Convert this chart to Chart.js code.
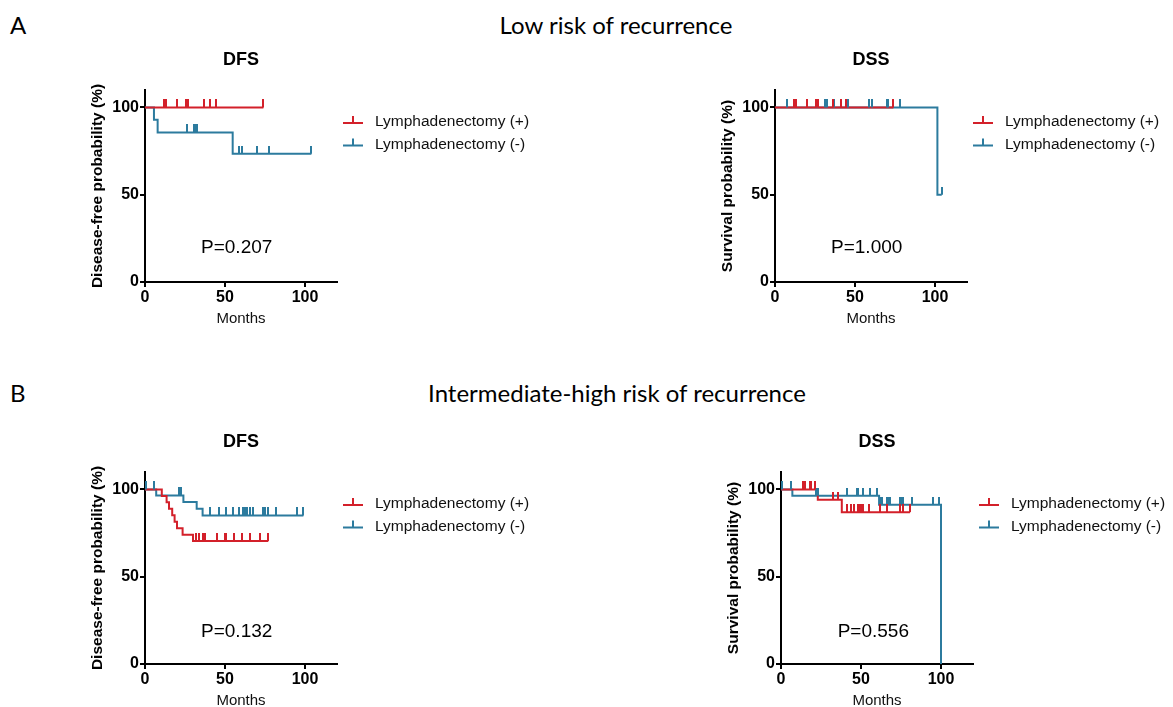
<!DOCTYPE html>
<html>
<head>
<meta charset="utf-8">
<script src="https://cdn.jsdelivr.net/npm/chart.js@4"></script>
<style>
  html, body { margin: 0; padding: 0; background: #fff; width: 1173px; height: 707px; overflow: hidden; }
  .panel { position: absolute; }
  .head { position: absolute; font-family: Lato, "Liberation Sans", sans-serif; font-size: 24px; line-height: 24px; color: #000; white-space: nowrap; }
  .center { text-align: center; width: 600px; }
</style>
</head>
<body>
<div class="head" style="left:10px; top:13px;">A</div>
<div class="head center" style="left:316px; top:13px;">Low risk of recurrence</div>
<div class="head" style="left:10px; top:381px;">B</div>
<div class="head center" style="left:317px; top:381px;">Intermediate-high risk of recurrence</div>

<canvas id="aDfs" class="panel"></canvas>
<canvas id="aDss" class="panel"></canvas>
<canvas id="bDfs" class="panel"></canvas>
<canvas id="bDss" class="panel"></canvas>

<script>
// Data (months, survival %)
const groupLabels = ['Lymphadenectomy (+)', 'Lymphadenectomy (-)'];
const xTicks = [0, 50, 100];
const yTicks = [0, 50, 100];

// A - low risk, DFS
const aDfsPosTimes = [0, 74];
const aDfsPosSurv = [100, 100];
const aDfsPosCens = [11.9, 12.9, 19.8, 25.4, 26.6, 37.1, 40.6, 44.4, 74];
const aDfsNegTimes = [0, 5.6, 7.9, 54.8, 104];
const aDfsNegSurv = [100, 92.9, 85.7, 73.5, 73.5];
const aDfsNegCens = [26, 30.6, 31.7, 32.7, 58.8, 60.4, 70.2, 77.7, 104];

// A - low risk, DSS
const aDssPosTimes = [0, 74];
const aDssPosSurv = [100, 100];
const aDssPosCens = [11.9, 12.9, 19.8, 25.4, 27.1, 36.5, 41.3, 44.4, 74];
const aDssNegTimes = [0, 101.5, 104.2];
const aDssNegSurv = [100, 50, 50];
const aDssNegCens = [7.7, 26, 31.3, 32.7, 36.9, 45.8, 58.8, 60.8, 69.8, 70.8, 78.1, 104.2];

// B - intermediate-high risk, DFS
const bDfsPosTimes = [0, 10.5, 13.5, 15, 17, 18.5, 20, 23.5, 30, 77];
const bDfsPosSurv = [100, 96.3, 92.6, 88.9, 85.2, 81.5, 77.8, 74.1, 70.4, 70.4];
const bDfsPosCens = [32, 33.5, 36.5, 37.5, 44.8, 50, 50.6, 55.4, 60.6, 65.6, 71.9, 77];
const bDfsNegTimes = [0, 7, 24, 32.3, 36, 99];
const bDfsNegSurv = [100, 96.6, 92.8, 89.0, 85.1, 85.1];
const bDfsNegCens = [0.6, 5.6, 21, 22.3, 40.6, 46.5, 50.6, 55.2, 58.8, 61, 62.5, 64, 65.6, 67.7, 73.5, 75, 77, 81.9, 95.2, 99];

// B - intermediate-high risk, DSS
const bDssPosTimes = [0, 23, 38, 80.6];
const bDssPosSurv = [100, 94.1, 87, 87];
const bDssPosCens = [13.7, 14.8, 18, 19, 21.3, 32.3, 35.8, 41.2, 43.7, 45.8, 47.9, 49, 50, 51, 55.2, 61.9, 66, 74.4, 76.5, 80.6];
const bDssNegTimes = [0, 7.1, 61.3, 100];
const bDssNegSurv = [100, 96.4, 91.2, 0];
const bDssNegCens = [0.8, 6, 21.7, 23, 41, 47.3, 48.3, 51.5, 55.6, 59.8, 62, 63, 66, 67, 68, 74.4, 75.4, 76.5, 81.7, 95, 99];

const RED = '#d3202a';
const BLUE = '#2c7b9e';
const FONT = '"Liberation Sans", Arial, sans-serif';

// layout of each plot (pixel geometry of the axes box)
const PLOT_W = 192, PLOT_H = 192, Y_AXIS_W = 85, X_AXIS_H = 55, TOP_PAD = 55, RIGHT_PAD = 200;

// survival value at time t from the step arrays
function survAt(times, surv, t) {
    let s = surv[0];
    for (let i = 0; i < times.length; i++) {
        if (times[i] <= t) s = surv[i];
    }
    return s;
}

// censor mark: short vertical line going up from the curve
function censorMark(color) {
    const c = document.createElement('canvas');
    c.width = 2;
    c.height = 16;
    const g = c.getContext('2d');
    g.fillStyle = color;
    g.fillRect(0, 0, 2, 8);
    return c;
}
const marks = { [RED]: censorMark(RED), [BLUE]: censorMark(BLUE) };

// Title, P value and legend
const kmText = {
    id: 'kmText',
    afterDraw(chart, args, opts) {
        const { ctx, chartArea: a, scales: { x, y } } = chart;
        ctx.save();
        ctx.fillStyle = '#000';
        ctx.textAlign = 'center';
        ctx.textBaseline = 'middle';
        ctx.font = 'bold 18px ' + FONT;
        ctx.fillText(opts.title, (a.left + a.right) / 2, a.top - 30);
        ctx.font = '19px ' + FONT;
        ctx.fillText(opts.pText, x.getPixelForValue(opts.pAt[0]), y.getPixelForValue(opts.pAt[1]));

        // legend
        [RED, BLUE].forEach((col, i) => {
            const ly = a.top + 33 + i * 22.5;
            const lx = a.right + 6;
            ctx.strokeStyle = col;
            ctx.lineWidth = 2;
            ctx.beginPath();
            ctx.moveTo(lx, ly);
            ctx.lineTo(lx + 20, ly);
            ctx.moveTo(lx + 10, ly);
            ctx.lineTo(lx + 10, ly - 7);
            ctx.stroke();
            ctx.fillStyle = '#111';
            ctx.textAlign = 'left';
            ctx.font = '15.5px ' + FONT;
            ctx.fillText(groupLabels[i], lx + 32, ly - 1);
        });
        ctx.restore();
    }
};

function makeKM(id, chartLeft, chartTop, cfg) {
    const el = document.getElementById(id);
    const w = Y_AXIS_W + PLOT_W + RIGHT_PAD;
    const h = TOP_PAD + PLOT_H + X_AXIS_H;
    el.width = w;
    el.height = h;
    el.style.left = (chartLeft - Y_AXIS_W) + 'px';
    el.style.top = (chartTop - TOP_PAD) + 'px';
    el.style.width = w + 'px';
    el.style.height = h + 'px';

    const groups = [
        { times: cfg.posTimes, surv: cfg.posSurv, cens: cfg.posCens, color: RED },
        { times: cfg.negTimes, surv: cfg.negSurv, cens: cfg.negCens, color: BLUE }
    ];
    const datasets = [];
    groups.forEach(g => {
        datasets.push({
            type: 'scatter',
            data: g.cens.map(t => ({ x: t, y: survAt(g.times, g.surv, t) })),
            pointStyle: marks[g.color],
            pointRadius: 3,
            showLine: false
        });
    });
    groups.forEach(g => {
        datasets.push({
            type: 'line',
            data: g.times.map((t, i) => ({ x: t, y: g.surv[i] })),
            borderColor: g.color,
            borderWidth: 2,
            stepped: 'before',
            pointRadius: 0,
            fill: false
        });
    });

    const tickFont = { family: FONT, size: 16, weight: 'bold' };
    return new Chart(el, {
        data: { datasets },
        options: {
            responsive: false,
            animation: false,
            layout: { padding: { top: TOP_PAD, right: RIGHT_PAD, left: 0, bottom: 0 } },
            scales: {
                x: {
                    type: 'linear',
                    min: 0, max: 120,
                    afterBuildTicks: s => { s.ticks = xTicks.map(v => ({ value: v })); },
                    afterFit: s => { s.height = X_AXIS_H; },
                    border: { display: true, color: '#000', width: 2 },
                    grid: { drawOnChartArea: false, drawTicks: true, tickLength: 5, color: '#000', lineWidth: 2 },
                    ticks: { color: '#000', font: tickFont, padding: 1, maxRotation: 0 },
                    title: { display: true, text: 'Months', color: '#111', font: { family: FONT, size: 15 }, padding: { top: 0, bottom: 9 } }
                },
                y: {
                    type: 'linear',
                    min: 0, max: 110,
                    afterBuildTicks: s => { s.ticks = yTicks.map(v => ({ value: v })); },
                    afterFit: s => { s.width = Y_AXIS_W; },
                    border: { display: true, color: '#000', width: 2 },
                    grid: { drawOnChartArea: false, drawTicks: true, tickLength: 5, color: '#000', lineWidth: 2 },
                    ticks: { color: '#000', font: tickFont, padding: 1 },
                    title: { display: true, text: cfg.yTitle, color: '#000', font: { family: FONT, size: 15.5, weight: 'bold' }, padding: { top: 28, bottom: 0 } }
                }
            },
            plugins: {
                legend: { display: false },
                tooltip: { enabled: false },
                kmText: { title: cfg.title, pText: cfg.pText, pAt: cfg.pAt }
            }
        },
        plugins: [kmText]
    });
}

makeKM('aDfs', 145, 90, {
    title: 'DFS', yTitle: 'Disease-free probability (%)', pText: 'P=0.207', pAt: [57.3, 19.4],
    posTimes: aDfsPosTimes, posSurv: aDfsPosSurv, posCens: aDfsPosCens,
    negTimes: aDfsNegTimes, negSurv: aDfsNegSurv, negCens: aDfsNegCens
});
makeKM('aDss', 775, 90, {
    title: 'DSS', yTitle: 'Survival probability (%)', pText: 'P=1.000', pAt: [57.3, 19.4],
    posTimes: aDssPosTimes, posSurv: aDssPosSurv, posCens: aDssPosCens,
    negTimes: aDssNegTimes, negSurv: aDssNegSurv, negCens: aDssNegCens
});
makeKM('bDfs', 145, 472, {
    title: 'DFS', yTitle: 'Disease-free probability (%)', pText: 'P=0.132', pAt: [57.3, 18.5],
    posTimes: bDfsPosTimes, posSurv: bDfsPosSurv, posCens: bDfsPosCens,
    negTimes: bDfsNegTimes, negSurv: bDfsNegSurv, negCens: bDfsNegCens
});
makeKM('bDss', 781, 472, {
    title: 'DSS', yTitle: 'Survival probability (%)', pText: 'P=0.556', pAt: [57.7, 18.5],
    posTimes: bDssPosTimes, posSurv: bDssPosSurv, posCens: bDssPosCens,
    negTimes: bDssNegTimes, negSurv: bDssNegSurv, negCens: bDssNegCens
});
</script>
</body>
</html>
